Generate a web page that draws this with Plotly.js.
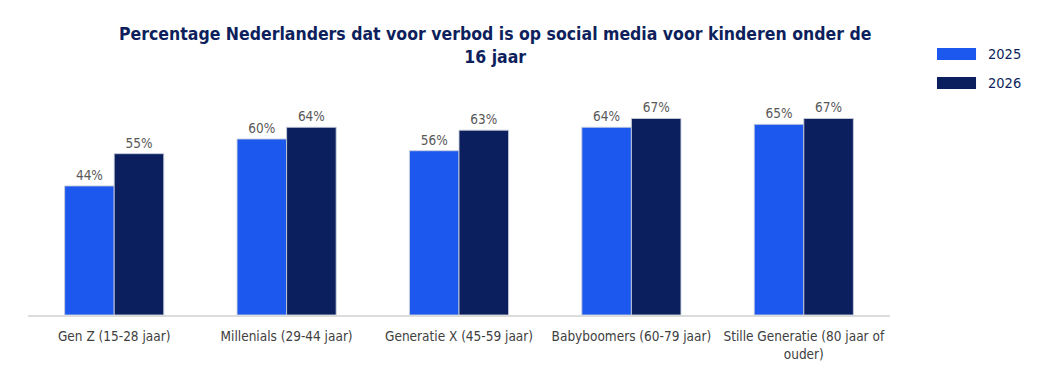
<!DOCTYPE html>
<html>
<head>
<meta charset="utf-8">
<script src="https://cdn.plot.ly/plotly-3.0.1.min.js"></script>
<style>html,body{margin:0;padding:0;background:#fff;}#chart{width:1053px;height:371px;}</style>
</head>
<body>
<div id="chart"></div>
<script>
var categories = ["Gen Z (15-28 jaar)", "Millenials (29-44 jaar)", "Generatie X (45-59 jaar)", "Babyboomers (60-79 jaar)", "Stille Generatie (80 jaar of<br>ouder)"];
var values2025 = [44, 60, 56, 64, 65];
var values2026 = [55, 64, 63, 67, 67];
var seriesNames = ["2025", "2026"];
var colors = ["#1c58ee", "#0b1f5e"];
var FONT = "'DejaVu Sans Condensed', 'Liberation Sans', sans-serif";

function labels(v){ return v.map(function(x){ return x + "%"; }); }

var traces = [values2025, values2026].map(function(vals, i){
  return {
    type: "bar",
    name: seriesNames[i],
    x: categories,
    y: vals,
    text: labels(vals),
    textposition: "outside",
    cliponaxis: false,
    textfont: {family: FONT, size: 13.5, color: "#595959"},
    marker: {color: colors[i], line: {color: "rgba(200,205,220,0.9)", width: 1}},
    showlegend: false,
    hoverinfo: "skip"
  };
});

var layout = {
  width: 1053, height: 371,
  margin: {l: 28, r: 163, t: 95, b: 56},
  paper_bgcolor: "#fff", plot_bgcolor: "#fff",
  barmode: "group",
  bargap: 0.425,
  bargroupgap: 0,
  title: {
    text: "Percentage Nederlanders dat voor verbod is op social media voor kinderen onder de<br>16 jaar",
    font: {family: FONT, size: 17.5, color: "#0d1f5c", weight: "bold"},
    x: 0.542, xref: "paper", xanchor: "center",
    y: 0.892, yref: "container", yanchor: "top"
  },
  xaxis: {
    showgrid: false, zeroline: false,
    showline: true, linecolor: "#dcdcdc", linewidth: 2,
    ticks: "", tickangle: 0, automargin: false, ticklabelstandoff: 8,
    tickfont: {family: FONT, size: 13.5, color: "#404040"},
    fixedrange: true
  },
  yaxis: {
    range: [0, 75], visible: false, showgrid: false, zeroline: false, fixedrange: true
  },
  shapes: [
    {type: "rect", xref: "paper", yref: "paper", x0: 1.0545, x1: 1.0998, y0: 1.2136, y1: 1.159, fillcolor: colors[0], line: {width: 0}},
    {type: "rect", xref: "paper", yref: "paper", x0: 1.0545, x1: 1.0998, y0: 1.082, y1: 1.027, fillcolor: colors[1], line: {width: 0}}
  ],
  annotations: [
    {xref: "paper", yref: "paper", x: 1.111, y: 1.186, xanchor: "left", yanchor: "middle", showarrow: false, text: seriesNames[0], font: {family: FONT, size: 14.5, color: "#0d1f5c"}},
    {xref: "paper", yref: "paper", x: 1.111, y: 1.055, xanchor: "left", yanchor: "middle", showarrow: false, text: seriesNames[1], font: {family: FONT, size: 14.5, color: "#0d1f5c"}}
  ]
};

Plotly.newPlot("chart", traces, layout, {displayModeBar: false, staticPlot: true});
</script>
</body>
</html>
